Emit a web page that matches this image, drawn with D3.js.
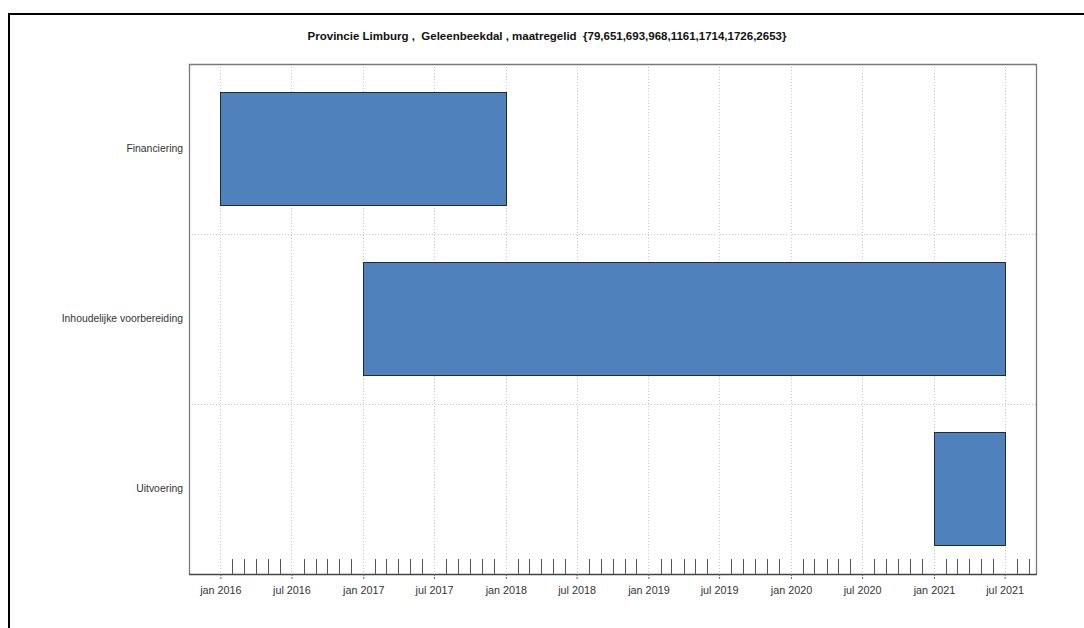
<!DOCTYPE html>
<html>
<head>
<meta charset="utf-8">
<script src="https://cdn.jsdelivr.net/npm/d3@7"></script>
<style>
html,body{margin:0;padding:0;background:#fff;}
svg{display:block;font-family:"Liberation Sans",Arial,sans-serif;}
</style>
</head>
<body>
<svg id="chart" width="1084" height="628"></svg>
<script>
const titleText = "Provincie Limburg ,  Geleenbeekdal , maatregelid  {79,651,693,968,1161,1714,1726,2653}";
const categories = ["Financiering", "Inhoudelijke voorbereiding", "Uitvoering"];
const startDates = ["2016-01-01", "2017-01-01", "2021-01-01"];
const endDates = ["2018-01-01", "2021-07-01", "2021-07-01"];
const monthNames = ["jan","feb","mrt","apr","mei","jun","jul","aug","sep","okt","nov","dec"];

const parse = d3.timeParse("%Y-%m-%d");
const tasks = categories.map((c, i) => ({name: c, start: parse(startDates[i]), end: parse(endDates[i])}));

const svg = d3.select("#chart");
const W = 1084, H = 628;
const panel = {left: 189, right: 1036, top: 64, bottom: 574};

// outer frame
svg.append("path")
  .attr("d", `M9,${H} L9,14 L${W},14`)
  .attr("fill", "none").attr("stroke", "#000").attr("stroke-width", 2);

// x scale with 4% extension
const minD = d3.min(tasks, d => d.start), maxD = d3.max(tasks, d => d.end);
const span = maxD - minD;
const x = d3.scaleTime()
  .domain([new Date(+minD - 0.04 * span), new Date(+maxD + 0.04 * span)])
  .range([panel.left, panel.right]);

const y = d3.scaleBand().domain(categories).range([panel.top, panel.bottom]).padding(0);
const barH = y.bandwidth() * 0.665;

// major ticks every 6 months (jan/jul)
const majorTicks = d3.timeMonth.every(6).range(d3.timeYear.floor(minD), x.domain()[1]);
const minorTicks = d3.timeMonth.range(d3.timeYear.floor(minD), x.domain()[1]);
const fmt = d => monthNames[d.getMonth()] + " " + d.getFullYear();

// vertical dotted gridlines
svg.append("g").selectAll("line").data(majorTicks).join("line")
  .attr("x1", d => Math.round(x(d)) + 0.5).attr("x2", d => Math.round(x(d)) + 0.5)
  .attr("y1", panel.top).attr("y2", panel.bottom)
  .attr("stroke", "#c8c8c8").attr("stroke-dasharray", "1,2");

// horizontal dotted gridlines between categories
svg.append("g").selectAll("line").data(categories.slice(1)).join("line")
  .attr("x1", panel.left).attr("x2", panel.right)
  .attr("y1", d => Math.round(y(d)) + 0.5).attr("y2", d => Math.round(y(d)) + 0.5)
  .attr("stroke", "#c8c8c8").attr("stroke-dasharray", "1,2");

// bars
svg.append("g").selectAll("rect").data(tasks).join("rect")
  .attr("x", d => Math.round(x(d.start)) + 0.5)
  .attr("width", d => Math.round(x(d.end)) - Math.round(x(d.start)))
  .attr("y", d => Math.round(y(d.name) + (y.bandwidth() - barH) / 2) + 0.5)
  .attr("height", Math.round(barH))
  .attr("fill", "#4f81bd").attr("stroke", "#1f2a38").attr("stroke-width", 1);

// panel border (left, top, right)
svg.append("path")
  .attr("d", `M${panel.left + 0.5},${panel.bottom} L${panel.left + 0.5},${panel.top + 0.5} L${panel.right + 0.5},${panel.top + 0.5} L${panel.right + 0.5},${panel.bottom}`)
  .attr("fill", "none").attr("stroke", "#7a7a7a").attr("stroke-width", 1.3);

// minor ticks (monthly, pointing up)
svg.append("g").selectAll("line").data(minorTicks.filter(d => d.getMonth() % 6 !== 0)).join("line")
  .attr("x1", d => Math.round(x(d)) + 0.5).attr("x2", d => Math.round(x(d)) + 0.5)
  .attr("y1", panel.bottom - 15).attr("y2", panel.bottom)
  .attr("stroke", "#555").attr("stroke-width", 1);

// x axis
const xAxis = d3.axisBottom(x).tickValues(majorTicks).tickFormat(fmt).tickSize(6).tickPadding(6);
const gx = svg.append("g").attr("transform", `translate(0,${panel.bottom})`).call(xAxis);
gx.select(".domain").attr("d", `M${panel.left},0.5H${panel.right + 1}`).attr("stroke", "#444").attr("stroke-width", 1.5);
gx.selectAll(".tick line").attr("stroke", "#666").attr("stroke-dasharray", "2,1");
gx.selectAll(".tick text").attr("font-size", "10.8px").attr("fill", "#333")
  .attr("font-family", "'Liberation Sans',Arial,sans-serif");

// y labels
const yAxis = d3.axisLeft(y).tickSize(0).tickPadding(6);
const gy = svg.append("g").attr("transform", `translate(${panel.left},0)`).call(yAxis);
gy.select(".domain").remove();
gy.selectAll(".tick text").attr("font-size", "10.4px").attr("fill", "#333")
  .attr("font-family", "'Liberation Sans',Arial,sans-serif");

// title
svg.append("text")
  .attr("x", 547).attr("y", 40)
  .attr("text-anchor", "middle")
  .attr("font-size", "11.5px").attr("font-weight", "bold").attr("fill", "#111")
  .style("white-space", "pre")
  .text(titleText);
</script>
</body>
</html>
